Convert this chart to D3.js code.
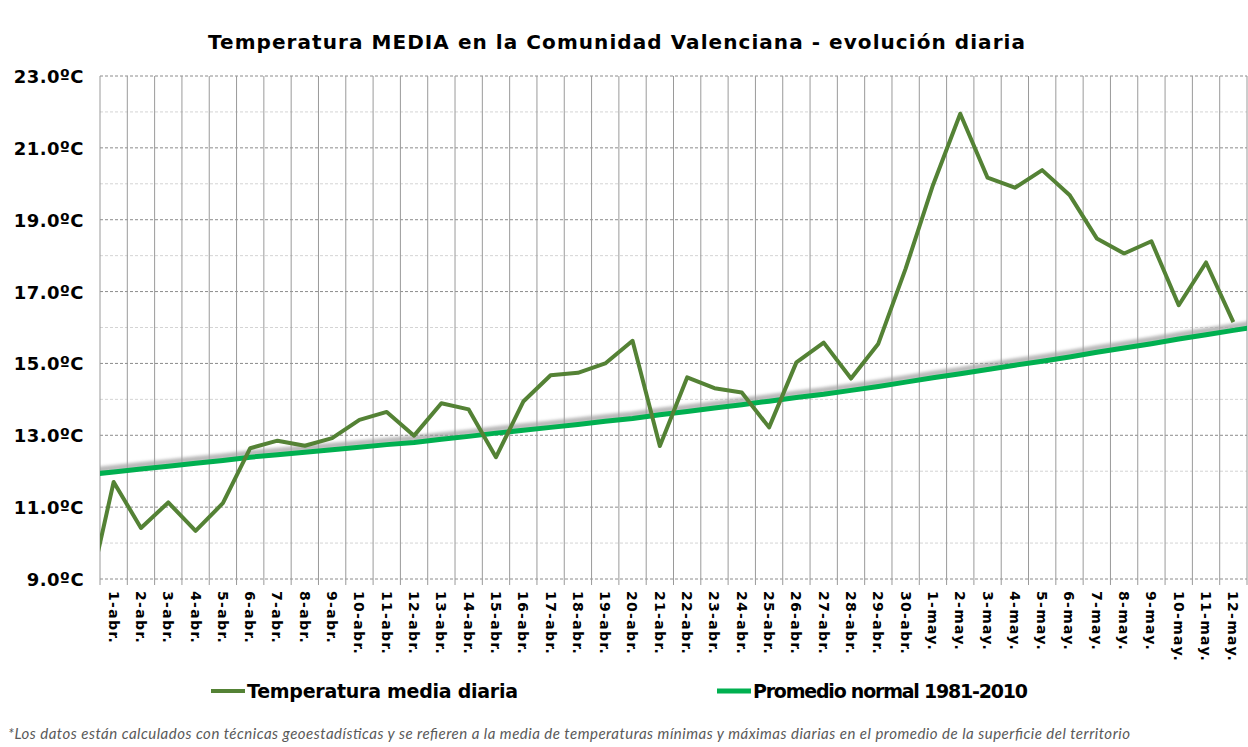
<!DOCTYPE html>
<html>
<head>
<meta charset="utf-8">
<script src="https://cdn.jsdelivr.net/npm/d3@7"></script>
<style>
  body { margin: 0; background: #fff; }
  svg { display: block; }
</style>
</head>
<body>
<script>
// Day labels on the category axis
var days = ["1-abr.","2-abr.","3-abr.","4-abr.","5-abr.","6-abr.","7-abr.","8-abr.","9-abr.","10-abr.",
  "11-abr.","12-abr.","13-abr.","14-abr.","15-abr.","16-abr.","17-abr.","18-abr.","19-abr.","20-abr.",
  "21-abr.","22-abr.","23-abr.","24-abr.","25-abr.","26-abr.","27-abr.","28-abr.","29-abr.","30-abr.",
  "1-may.","2-may.","3-may.","4-may.","5-may.","6-may.","7-may.","8-may.","9-may.","10-may.",
  "11-may.","12-may."]

// Temperatura media diaria (ºC)
var tempMedia = [11.70,10.42,11.13,10.34,11.11,12.64,12.85,12.71,12.92,13.43,
  13.65,12.99,13.89,13.72,12.39,13.94,14.67,14.74,15.00,15.63,
  12.70,14.61,14.31,14.19,13.22,15.03,15.58,14.58,15.55,17.64,
  19.96,21.95,20.17,19.89,20.38,19.69,18.48,18.06,18.40,16.62,
  17.81,16.15]

// Promedio normal 1981-2010 (ºC)
var normal = [11.98,12.06,12.14,12.22,12.30,12.39,12.46,12.53,12.60,12.67,
  12.74,12.80,12.89,12.97,13.06,13.14,13.22,13.30,13.39,13.47,
  13.57,13.66,13.76,13.85,13.95,14.05,14.14,14.25,14.36,14.48,
  14.60,14.71,14.83,14.95,15.06,15.18,15.31,15.43,15.55,15.68,
  15.80,15.92]

// the series run past the axis on both sides (31-mar / 13-may), clipped by the plot
var tempPrev = 8.30
var normalPrev = 11.90
var normalNext = 16.04

var yTicks = [9, 11, 13, 15, 17, 19, 21, 23]
var yMinor = [10, 12, 14, 16, 18, 20, 22]

var width = 1248, height = 747
var margin = {top: 76, right: 1, bottom: 168, left: 100}
var innerW = width - margin.left - margin.right
var innerH = height - margin.top - margin.bottom

var svg = d3.select("body").append("svg")
    .attr("width", width)
    .attr("height", height)

var defs = svg.append("defs")
defs.append("clipPath").attr("id", "plotClip")
  .append("rect").attr("x", 0).attr("y", 0).attr("width", innerW).attr("height", innerH)
defs.append("filter").attr("id", "soft")
  .attr("x", "-5%").attr("y", "-50%").attr("width", "110%").attr("height", "200%")
  .append("feGaussianBlur").attr("stdDeviation", 1.6)

var g = svg.append("g")
    .attr("transform", "translate(" + margin.left + "," + margin.top + ")")

var xBand = d3.scaleBand().domain(days).range([0, innerW]).padding(0)
// index scale for the lines: point i sits at the centre of its band
var xIdx = d3.scaleLinear().domain([-0.5, days.length - 0.5]).range([0, innerW])
var y = d3.scaleLinear().domain([9, 23]).range([innerH, 0])

// horizontal grid
g.append("g").selectAll("line").data(yMinor).join("line")
    .attr("x1", 0).attr("x2", innerW)
    .attr("y1", d => y(d)).attr("y2", d => y(d))
    .attr("stroke", "#d4d4d4").attr("stroke-dasharray", "3,2")
g.append("g").selectAll("line").data(yTicks).join("line")
    .attr("x1", 0).attr("x2", innerW)
    .attr("y1", d => y(d)).attr("y2", d => y(d))
    .attr("stroke", "#8c8c8c").attr("stroke-dasharray", "3,2")

// vertical grid at category boundaries, extending down as tick marks
var bounds = days.map(d => xBand(d)).concat([innerW])
g.append("g").selectAll("line").data(bounds).join("line")
    .attr("x1", d => d).attr("x2", d => d)
    .attr("y1", 0).attr("y2", innerH + 6)
    .attr("stroke", "#9a9a9a").attr("stroke-width", 1)

// y axis labels
var yAxis = g.append("g")
    .call(d3.axisLeft(y).tickValues(yTicks).tickSize(0).tickPadding(16)
      .tickFormat(d => d.toFixed(1) + "ºC"))
yAxis.select(".domain").remove()
yAxis.selectAll("text")
    .attr("font-family", "DejaVu Sans").attr("font-weight", "bold")
    .attr("font-size", 18).attr("letter-spacing", "0.4px").attr("fill", "#000")
    .attr("dy", "0.36em")

// x axis labels, rotated to read downwards
var xAxis = g.append("g")
    .attr("transform", "translate(0," + innerH + ")")
    .call(d3.axisBottom(xBand).tickSize(0).tickPadding(0))
xAxis.select(".domain").remove()
xAxis.selectAll("text")
    .attr("font-family", "DejaVu Sans").attr("font-weight", "bold")
    .attr("font-size", 14).attr("letter-spacing", "1.3px").attr("fill", "#000")
    .attr("text-anchor", "start")
    .attr("y", 0).attr("dy", "0.36em")
    .attr("transform", "translate(0,12) rotate(90)")

var lines = g.append("g").attr("clip-path", "url(#plotClip)")

var normalPts = [[-1, normalPrev]].concat(normal.map((v, i) => [i, v])).concat([[normal.length, normalNext]])
var tempPts = [[-1, tempPrev]].concat(tempMedia.map((v, i) => [i, v]))

var line = d3.line().x(d => xIdx(d[0])).y(d => y(d[1]))

// soft grey shadow just above the normal line
lines.append("path")
    .datum(normalPts)
    .attr("d", line)
    .attr("transform", "translate(0,-4)")
    .attr("fill", "none")
    .attr("stroke", "#9b9b9b").attr("stroke-opacity", 0.7)
    .attr("stroke-width", 6)
    .attr("filter", "url(#soft)")

lines.append("path")
    .datum(normalPts)
    .attr("d", line)
    .attr("fill", "none")
    .attr("stroke", "#00b050")
    .attr("stroke-width", 5)
    .attr("stroke-linejoin", "round")

lines.append("path")
    .datum(tempPts)
    .attr("d", line)
    .attr("fill", "none")
    .attr("stroke", "#548235")
    .attr("stroke-width", 4)
    .attr("stroke-linejoin", "round")

// title
svg.append("text")
    .attr("x", 208).attr("y", 49)
    .attr("font-family", "DejaVu Sans").attr("font-weight", "bold")
    .attr("font-size", 20).attr("fill", "#000")
    .attr("textLength", 817).attr("lengthAdjust", "spacing")
    .text("Temperatura MEDIA en la Comunidad Valenciana - evolución diaria")

// legend
var legendItems = [
  {name: "Temperatura media diaria", color: "#548235", w: 4, x: 211, len: 271},
  {name: "Promedio normal 1981-2010", color: "#00b050", w: 5, x: 717, len: 275}
]
var lg = svg.append("g").selectAll("g").data(legendItems).join("g")
    .attr("transform", d => "translate(" + d.x + ",691)")
lg.append("line")
    .attr("x1", 0).attr("x2", 34).attr("y1", 0).attr("y2", 0)
    .attr("stroke", d => d.color).attr("stroke-width", d => d.w)
lg.append("text")
    .attr("x", 36).attr("y", 7)
    .attr("font-family", "DejaVu Sans").attr("font-weight", "bold")
    .attr("font-size", 19).attr("fill", "#000")
    .attr("textLength", d => d.len).attr("lengthAdjust", "spacing")
    .text(d => d.name)

// footnote
svg.append("text")
    .attr("x", 8).attr("y", 739)
    .attr("font-family", "Lato").attr("font-style", "italic")
    .attr("font-size", 15).attr("fill", "#595959")
    .attr("textLength", 1122).attr("lengthAdjust", "spacing")
    .text("*Los datos están calculados con técnicas geoestadísticas y se refieren a la media de temperaturas mínimas y máximas diarias en el promedio de la superficie del territorio")
</script>
</body>
</html>
